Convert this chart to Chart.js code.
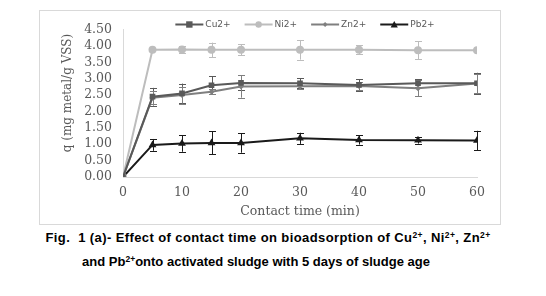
<!DOCTYPE html>
<html>
<head>
<meta charset="utf-8">
<script src="https://cdn.jsdelivr.net/npm/chart.js@4"></script>
<style>
  body { margin: 0; background: #fff; width: 546px; height: 296px; position: relative; overflow: hidden; }
  #box { position: absolute; left: 39px; top: 10px; width: 460px; height: 213px; border: 1px solid #d9d9d9; }
  #box canvas { display: block; }
  .cap { position: absolute; white-space: nowrap; font: bold 13px "Liberation Sans", Arial, sans-serif; color: #000; line-height: 14px; transform: translateX(-50%); }
  .cap sup { font-size: 8.5px; line-height: 0; vertical-align: 4px; }
</style>
</head>
<body>
<div id="box"><canvas id="kinChart" width="460" height="213"></canvas></div>
<div class="cap" style="left:268px; top:231px; letter-spacing:0.4px;">Fig.&nbsp; 1 (a)- Effect of contact time on bioadsorption of Cu<sup>2+</sup>, Ni<sup>2+</sup>, Zn<sup>2+</sup></div>
<div class="cap" style="left:256px; top:255px;">and Pb<sup>2+</sup>onto activated sludge with 5 days of sludge age</div>
<script>
// tempo de contato (min)
const tempos = [0, 5, 10, 15, 20, 30, 40, 50, 60];

// q (mg metal / g VSS)
const cuValores = [0, 2.45, 2.55, 2.80, 2.87, 2.86, 2.81, 2.86, 2.86];
const niValores = [0, 3.88, 3.89, 3.88, 3.88, 3.88, 3.88, 3.87, 3.87];
const znValores = [0, 2.42, 2.50, 2.60, 2.76, 2.77, 2.78, 2.71, 2.85];
const pbValores = [0, 0.98, 1.02, 1.04, 1.04, 1.18, 1.13, 1.12, 1.11];

// barras de erro (+/-)
const cuErro = [0, 0.27, 0.30, 0.28, 0.23, 0.15, 0.18, 0.12, 0.32];
const niErro = [0, 0, 0.10, 0.22, 0.17, 0.30, 0.14, 0.27, 0];
const znErro = [0, 0.20, 0.26, 0.08, 0.34, 0.10, 0.12, 0.25, 0.30];
const pbErro = [0, 0.18, 0.25, 0.35, 0.30, 0.17, 0.14, 0.10, 0.30];

const yTicks = [0, 0.5, 1, 1.5, 2, 2.5, 3, 3.5, 4, 4.5];

const series = [
    { label: 'Cu2+', values: cuValores, erro: cuErro, color: '#595959', marker: 'square', size: 4 },
    { label: 'Ni2+', values: niValores, erro: niErro, color: '#bdbdbd', marker: 'circle', size: 4 },
    { label: 'Zn2+', values: znValores, erro: znErro, color: '#7f7f7f', marker: 'diamond', size: 3 },
    { label: 'Pb2+', values: pbValores, erro: pbErro, color: '#1a1a1a', marker: 'triangle', size: 4.5 }
];

const estilos = { square: 'rect', circle: 'circle', diamond: 'rectRot', triangle: 'triangle' };

function desenhaMarcador(ctx, tipo, x, y, r, cor) {
    ctx.save();
    ctx.fillStyle = cor;
    ctx.beginPath();
    if (tipo === 'square') {
        ctx.rect(x - r, y - r, r * 2, r * 2);
    } else if (tipo === 'circle') {
        ctx.arc(x, y, r, 0, Math.PI * 2);
    } else if (tipo === 'diamond') {
        ctx.moveTo(x, y - r); ctx.lineTo(x + r, y); ctx.lineTo(x, y + r); ctx.lineTo(x - r, y);
    } else {
        ctx.moveTo(x, y - r); ctx.lineTo(x + r, y + r * 0.8); ctx.lineTo(x - r, y + r * 0.8);
    }
    ctx.closePath();
    ctx.fill();
    ctx.restore();
}

// barras de erro desenhadas pelas escalas
const barrasErro = {
    id: 'barrasErro',
    beforeDatasetsDraw(chart) {
        const ctx = chart.ctx;
        const xs = chart.scales.x, ys = chart.scales.y;
        ctx.save();
        ctx.lineWidth = 1;
        series.forEach(s => {
            ctx.strokeStyle = s.color;
            tempos.forEach((t, i) => {
                const e = s.erro[i];
                if (!e) return;
                const px = Math.round(xs.getPixelForValue(t)) + 0.5;
                const y1 = ys.getPixelForValue(s.values[i] + e);
                const y2 = ys.getPixelForValue(s.values[i] - e);
                ctx.beginPath();
                ctx.moveTo(px, y1); ctx.lineTo(px, y2);
                ctx.moveTo(px - 3.5, Math.round(y1) + 0.5); ctx.lineTo(px + 3.5, Math.round(y1) + 0.5);
                ctx.moveTo(px - 3.5, Math.round(y2) + 0.5); ctx.lineTo(px + 3.5, Math.round(y2) + 0.5);
                ctx.stroke();
            });
        });
        ctx.restore();
    }
};

// legenda e título do eixo y
const legendaTopo = {
    id: 'legendaTopo',
    afterDraw(chart) {
        const ctx = chart.ctx;
        ctx.save();
        ctx.font = '9px "DejaVu Sans", sans-serif';
        ctx.textBaseline = 'middle';
        const linha = 28, gap = 2, espaco = 14;
        let total = 0;
        series.forEach((s, i) => {
            total += linha + gap + ctx.measureText(s.label).width + (i < series.length - 1 ? espaco : 0);
        });
        let x = (chart.chartArea.left + chart.chartArea.right) / 2 + 5 - total / 2;
        const y = 13.5;
        series.forEach(s => {
            ctx.strokeStyle = s.color;
            ctx.lineWidth = 2;
            ctx.beginPath();
            ctx.moveTo(x, y); ctx.lineTo(x + linha, y);
            ctx.stroke();
            desenhaMarcador(ctx, s.marker, x + linha / 2, y, s.size * 0.8, s.color);
            ctx.fillStyle = '#595959';
            ctx.fillText(s.label, x + linha + gap, y + 0.5);
            x += linha + gap + ctx.measureText(s.label).width + espaco;
        });

        ctx.translate(28, 82);
        ctx.rotate(-Math.PI / 2);
        ctx.font = '12px "DejaVu Serif", serif';
        ctx.fillStyle = '#595959';
        ctx.textAlign = 'center';
        ctx.fillText('q (mg metal/g VSS)', 0, 0);
        ctx.restore();
    }
};

const ctx = document.getElementById('kinChart').getContext('2d');
new Chart(ctx, {
    type: 'line',
    data: {
        datasets: series.map(s => ({
            label: s.label,
            data: tempos.map((t, i) => ({ x: t, y: s.values[i] })),
            borderColor: s.color,
            backgroundColor: s.color,
            borderWidth: 2,
            tension: 0,
            pointStyle: estilos[s.marker],
            pointRadius: s.size,
            pointBorderWidth: 0,
            pointHoverRadius: s.size
        }))
    },
    options: {
        responsive: false,
        animation: false,
        layout: { padding: { left: 0, right: 23, top: 18, bottom: 0 } },
        plugins: {
            legend: { display: false },
            tooltip: { enabled: false }
        },
        scales: {
            x: {
                type: 'linear',
                min: 0,
                max: 60,
                afterFit: scale => { scale.height = 47; },
                grid: { display: false, drawTicks: false },
                border: { display: true, color: '#d9d9d9', width: 1 },
                ticks: {
                    stepSize: 10,
                    padding: 8,
                    autoSkip: false,
                    color: '#595959',
                    font: { family: '"DejaVu Serif", serif', size: 12.5 }
                },
                title: {
                    display: true,
                    text: 'Contact time (min)',
                    color: '#595959',
                    font: { family: '"DejaVu Serif", serif', size: 12.5 },
                    padding: { top: 4, bottom: 5 }
                }
            },
            y: {
                min: 0,
                max: 4.5,
                afterFit: scale => { scale.width = 83; },
                afterBuildTicks: scale => { scale.ticks = yTicks.map(v => ({ value: v })); },
                grid: { display: false, drawTicks: false },
                border: { display: true, color: '#d9d9d9', width: 1 },
                ticks: {
                    padding: 11,
                    autoSkip: false,
                    color: '#595959',
                    font: { family: '"DejaVu Serif", serif', size: 12.5 },
                    callback: v => v.toFixed(2)
                }
            }
        }
    },
    plugins: [barrasErro, legendaTopo]
});
</script>
</body>
</html>
